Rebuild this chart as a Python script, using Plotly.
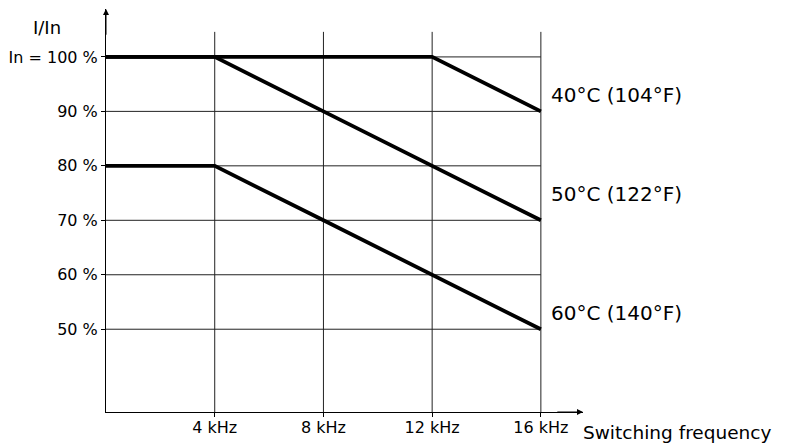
import plotly.graph_objects as go

# ---- data ----
freq_khz = [0, 4, 8, 12, 16]
curve_40 = [100, 100, 100, 100, 90]
curve_50 = [100, 100, 90, 80, 70]
curve_60 = [80, 80, 70, 60, 50]
series_names = ["40°C (104°F)", "50°C (122°F)", "60°C (140°F)"]
label_y = [93.1, 74.8, 52.9]

x_tickvals = [4, 8, 12, 16]
x_ticktext = ["4 kHz", "8 kHz", "12 kHz", "16 kHz"]
y_tickvals = [50, 60, 70, 80, 90, 100]
y_ticktext = ["50 %", "60 %", "70 %", "80 %", "90 %", "In = 100 %"]

# ---- layout constants ----
X_MAX = 17.55
Y_MIN, Y_MAX = 34.8, 108.8
GRID_TOP = 104.6
FONT = "DejaVu Sans"

fig = go.Figure()

for ys in (curve_40, curve_50, curve_60):
    fig.add_trace(go.Scatter(x=freq_khz, y=ys, mode="lines",
                             line=dict(color="black", width=3.8),
                             hoverinfo="skip", showlegend=False))

shapes = []
for yv in y_tickvals:
    shapes.append(dict(type="line", xref="x", yref="y", x0=0, x1=x_tickvals[-1],
                       y0=yv, y1=yv, line=dict(color="#222", width=1), layer="below"))
for xv in x_tickvals:
    shapes.append(dict(type="line", xref="x", yref="y", x0=xv, x1=xv,
                       y0=Y_MIN, y1=GRID_TOP, line=dict(color="#222", width=1), layer="below"))

annotations = []
# axis arrowheads
annotations.append(dict(x=X_MAX, y=Y_MIN, ax=X_MAX - 1, ay=Y_MIN, xref="x", yref="y",
                        axref="x", ayref="y", text="", showarrow=True, arrowhead=2,
                        arrowsize=1.2, arrowwidth=1, arrowcolor="black"))
annotations.append(dict(x=0, y=Y_MAX, ax=0, ay=Y_MAX - 5, xref="x", yref="y",
                        axref="x", ayref="y", text="", showarrow=True, arrowhead=2,
                        arrowsize=1.2, arrowwidth=1, arrowcolor="black"))
for name, yv in zip(series_names, label_y):
    annotations.append(dict(x=x_tickvals[-1], y=yv, xref="x", yref="y", text=name,
                            showarrow=False, xanchor="left", yanchor="middle", xshift=8,
                            font=dict(family=FONT, size=20, color="black")))
annotations.append(dict(x=1.0, y=-0.051, xref="paper", yref="paper", text="Switching frequency",
                        showarrow=False, xanchor="left", yanchor="middle", xshift=-2,
                        font=dict(family=FONT, size=18.5, color="black")))
annotations.append(dict(x=-0.124, y=0.954, xref="paper", yref="paper", text="I/In",
                        showarrow=False, xanchor="center", yanchor="middle",
                        font=dict(family=FONT, size=18, color="black")))

# the page body adds an 8px offset, so the figure is sized to the visible area
fig.update_layout(
    width=778, height=440,
    margin=dict(l=98, r=203, t=1, b=36, pad=0),
    paper_bgcolor="white", plot_bgcolor="white",
    shapes=shapes, annotations=annotations,
    xaxis=dict(range=[0, X_MAX], showgrid=False, zeroline=False, showline=True,
               automargin=False,
               linecolor="black", linewidth=1, tickvals=x_tickvals, ticktext=x_ticktext,
               ticks="outside", ticklen=4, tickcolor="black", ticklabelstandoff=-3,
               tickfont=dict(family=FONT, size=16, color="black")),
    yaxis=dict(range=[Y_MIN, Y_MAX], showgrid=False, zeroline=False, showline=True,
               automargin=False,
               linecolor="black", linewidth=1, tickvals=y_tickvals, ticktext=y_ticktext,
               ticks="outside", ticklen=4, tickcolor="black",
               tickfont=dict(family=FONT, size=16, color="black")),
    showlegend=False,
)

fig.write_html("out.html")
